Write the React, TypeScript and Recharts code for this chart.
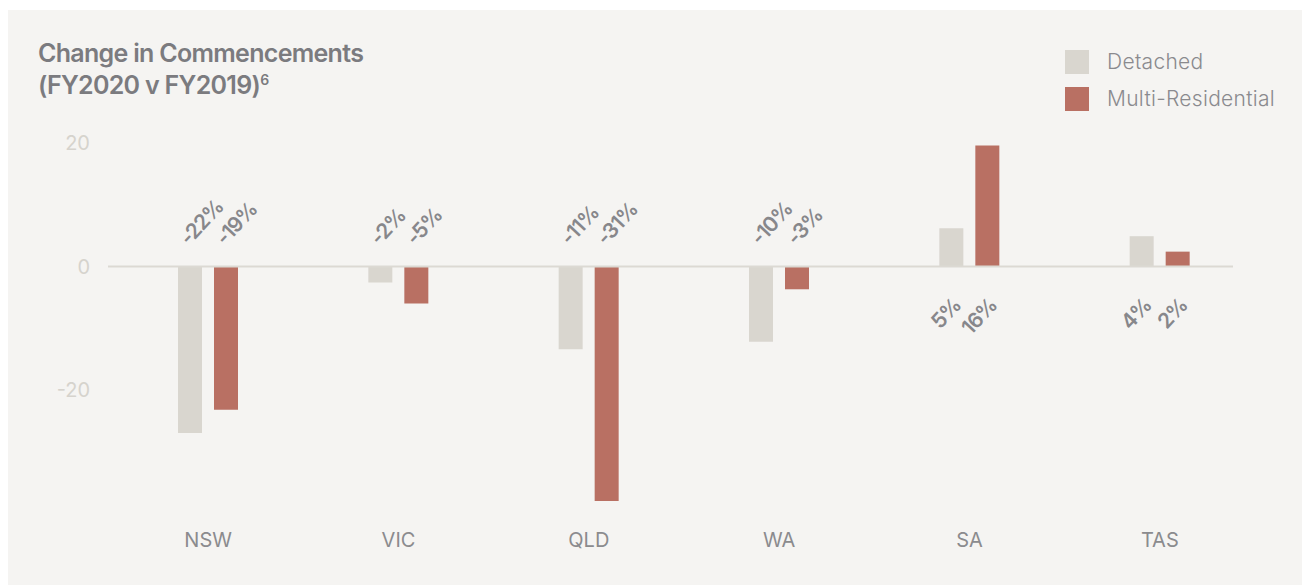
import React from "react"
import { BarChart, Bar, XAxis, YAxis, ReferenceLine, LabelList } from "recharts"

const states = ["NSW", "VIC", "QLD", "WA", "SA", "TAS"]
const detached = [-27, -2.6, -13.4, -12.2, 6.2, 4.9]
const multiResidential = [-23.2, -6, -38, -3.7, 19.6, 2.4]
const detachedLabels = ["-22%", "-2%", "-11%", "-10%", "5%", "4%"]
const multiLabels = ["-19%", "-5%", "-31%", "-3%", "16%", "2%"]
const yTicks = [-20, 0, 20]

const FONT = "Inter, 'Noto Sans', sans-serif"
const BG = "#f5f4f2"
const DETACHED = "#d9d6cf"
const MULTI = "#b97063"

const data = states.map((s, i) => ({
  state: s,
  detached: detached[i],
  multi: multiResidential[i],
}))

function makeLabel(labels: string[]) {
  return (props: any) => {
    const { x, y, width, height, index, value } = props
    const cx = Number(x) + Number(width) / 2
    const top = Math.min(Number(y), Number(y) + Number(height))
    const bottom = Math.max(Number(y), Number(y) + Number(height))
    const neg = Number(value) < 0
    const zero = neg ? top : bottom
    const ax = neg ? cx - 1 : cx + 11
    const ay = neg ? zero - 20 : zero + 40
    return (
      <text
        x={ax}
        y={ay}
        transform={`rotate(-47 ${ax} ${ay})`}
        textAnchor={neg ? "start" : "end"}
        fontFamily={FONT}
        fontSize={21}
        fontWeight={600}
        fill="#87878b"
        letterSpacing={-1}
      >
        {labels[index]}
      </text>
    )
  }
}

function LegendBox() {
  const items = [
    { name: "Detached", color: DETACHED },
    { name: "Multi-Residential", color: MULTI },
  ]
  return (
    <div style={{ position: "absolute", left: 1057, top: 33, fontFamily: FONT }}>
      {items.map((it) => (
        <div key={it.name} style={{ display: "flex", alignItems: "center", height: 37 }}>
          <span style={{ width: 24, height: 24, background: it.color, display: "inline-block" }} />
          <span style={{ marginLeft: 18, fontSize: 21, fontWeight: 300, color: "#8a8a8e", letterSpacing: 0.3 }}>
            {it.name}
          </span>
        </div>
      ))}
    </div>
  )
}

function ZeroLine(props: any) {
  const { x1, x2, y1 } = props
  return <line x1={x1 - 5} x2={x2 - 22} y1={y1} y2={y1} stroke="#dcd9d3" strokeWidth={2} />
}

export default function App() {
  return (
    <div style={{ marginTop: 2, width: 1302, height: 575, background: BG, position: "relative" }}>
      <div
        style={{
          position: "absolute",
          left: 30,
          top: 27,
          fontFamily: FONT,
          fontSize: 25,
          lineHeight: "32px",
          fontWeight: 600,
          color: "#7b7b7f",
          letterSpacing: -0.7,
        }}
      >
        Change in Commencements
        <br />
        (FY2020 v FY2019)<sup style={{ fontSize: 14, verticalAlign: "top", lineHeight: "22px" }}>6</sup>
      </div>
      <LegendBox />
      <BarChart
        width={1302}
        height={575}
        data={data}
        margin={{ top: 133, right: 55, bottom: 24, left: 0 }}
        barSize={24}
        barGap={12}
      >
        <XAxis
          dataKey="state"
          axisLine={false}
          tickLine={false}
          height={60}
          tickMargin={26}
          tick={{ fontSize: 20, fontFamily: FONT, fill: "#8b8b8e" }}
        />
        <YAxis
          width={105}
          domain={[-38, 20]}
          ticks={yTicks}
          axisLine={false}
          tickLine={false}
          tickMargin={17}
          tick={{ fontSize: 20, fontFamily: FONT, fill: "#d6d3cd" }}
        />
        <ReferenceLine y={0} shape={<ZeroLine />} ifOverflow="extendDomain" />
        <Bar dataKey="detached" name="Detached" fill={DETACHED} isAnimationActive={false}>
          <LabelList dataKey="detached" content={makeLabel(detachedLabels)} />
        </Bar>
        <Bar dataKey="multi" name="Multi-Residential" fill={MULTI} isAnimationActive={false}>
          <LabelList dataKey="multi" content={makeLabel(multiLabels)} />
        </Bar>
      </BarChart>
    </div>
  )
}
